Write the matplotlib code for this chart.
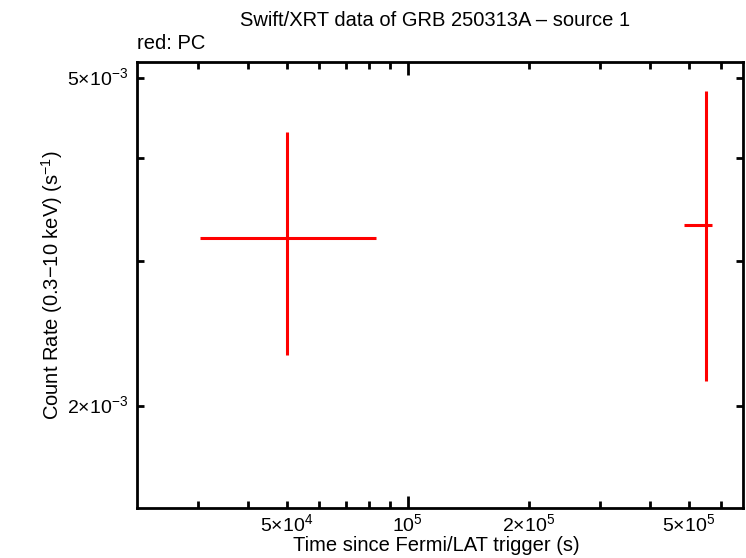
import numpy as np
import matplotlib.pyplot as plt
from matplotlib.ticker import FixedLocator, NullFormatter

plt.rcParams['font.family'] = ['Liberation Sans', 'DejaVu Sans']
plt.rcParams['mathtext.fontset'] = 'custom'
plt.rcParams['mathtext.rm'] = 'Liberation Sans'
plt.rcParams['mathtext.it'] = 'Liberation Sans'

# PC mode data points
t = np.array([5.0e4, 5.51e5])
t_lo = np.array([3.05e4, 4.86e5])
t_hi = np.array([8.33e4, 5.70e5])
rate = np.array([3.20e-3, 3.32e-3])
rate_lo = np.array([2.305e-3, 2.144e-3])
rate_hi = np.array([4.30e-3, 4.82e-3])

xtick_vals = [5e4, 1e5, 2e5, 5e5]
xtick_labels = [r'$5{\times}10^{4}$', r'$10^{5}$', r'$2{\times}10^{5}$', r'$5{\times}10^{5}$']
ytick_vals = [2e-3, 5e-3]
ytick_labels = [r'$2{\times}10^{-3}$', r'$5{\times}10^{-3}$']

fig = plt.figure(figsize=(7.46, 5.58), dpi=100)
ax = fig.add_axes([0.1836, 0.0896, 0.8124, 0.7994])

ax.errorbar(t, rate, xerr=[t - t_lo, t_hi - t], yerr=[rate - rate_lo, rate_hi - rate],
            fmt='none', ecolor='red', elinewidth=2.2, capsize=0)

ax.set_xscale('log')
ax.set_yscale('log')
ax.set_xlim(2.12e4, 6.81e5)
ax.set_ylim(1.503e-3, 5.23e-3)

# x ticks: long tick at decade, short elsewhere
ax.xaxis.set_major_locator(FixedLocator([1e5]))
ax.xaxis.set_major_formatter(NullFormatter())
xminor = [k * 1e4 for k in range(3, 10)] + [k * 1e5 for k in range(2, 7)]
ax.xaxis.set_minor_locator(FixedLocator(xminor))
ax.xaxis.set_minor_formatter(NullFormatter())
for v, lab in zip(xtick_vals, xtick_labels):
    ax.text(v, -0.012, lab, transform=ax.get_xaxis_transform(), ha='center', va='top', fontsize=14)

ax.yaxis.set_major_locator(FixedLocator([2e-3, 3e-3, 4e-3, 5e-3]))
ax.yaxis.set_major_formatter(NullFormatter())
ax.yaxis.set_minor_locator(FixedLocator([]))
for v, lab in zip(ytick_vals, ytick_labels):
    ax.text(-0.015, v, lab, transform=ax.get_yaxis_transform(), ha='right', va='center', fontsize=14)

ax.tick_params(which='both', direction='in', top=True, right=True, width=2)
ax.tick_params(which='major', length=9)
ax.tick_params(which='minor', length=5)
ax.tick_params(axis='y', which='major', length=5)
for s in ax.spines.values():
    s.set_linewidth(2)

fig.text(0.585, 0.022, 'Time since Fermi/LAT trigger (s)', ha='center', va='center', fontsize=14.5)
ax.set_ylabel(r'Count Rate (0.3$-$10 keV) (s$^{-1}$)', fontsize=14.5, labelpad=48)
fig.text(0.583, 0.964, 'Swift/XRT data of GRB 250313A \u2013 source 1', ha='center', va='center', fontsize=14.5)
fig.text(0.184, 0.922, 'red: PC', ha='left', va='center', fontsize=14.5)

fig.savefig('out.png', dpi=100)
